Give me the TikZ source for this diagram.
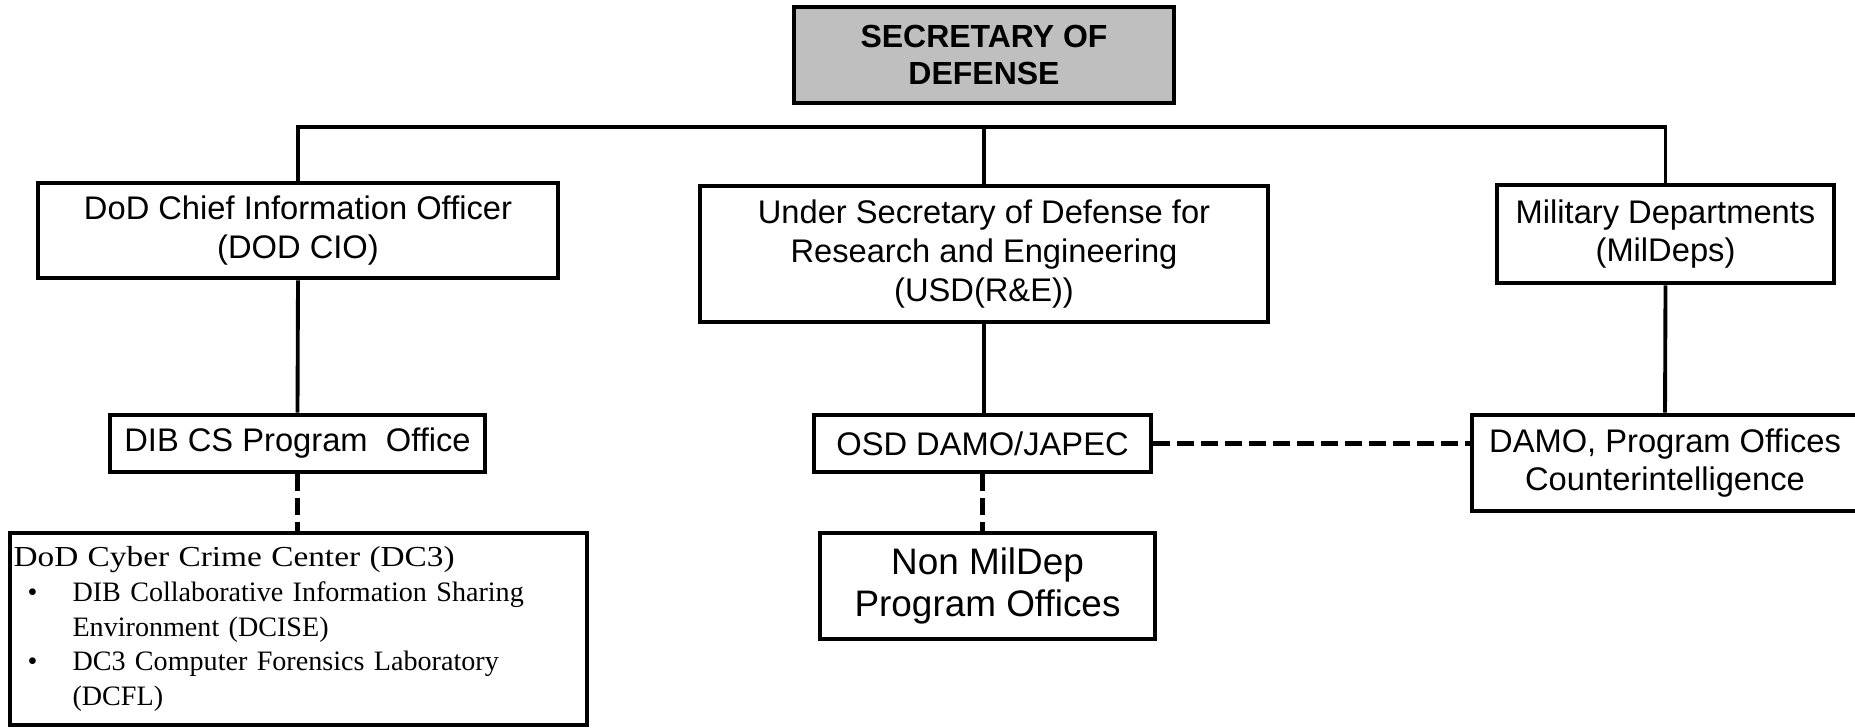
\documentclass[tikz,border=0pt]{standalone}
\usepackage{fontspec}
\setmainfont{Liberation Sans}
\newfontfamily\dcfont{Liberation Serif}

\begin{document}
\begin{tikzpicture}[
  x=0.02cm, y=-0.02cm,
  orgbox/.style={
    rectangle, draw=black, line width=2.6pt, fill=white,
    inner sep=0pt, align=center,
    font=\fontsize{18.6}{22}\selectfont
  },
  topbox/.style={
    orgbox, fill=gray!50,
    font=\fontsize{18.2}{21.5}\selectfont\bfseries
  },
  solidlink/.style={line width=2.2pt},
  dashlink/.style={line width=2.6pt, dash pattern=on 0.34cm off 0.14cm}
]
\useasboundingbox[fill=white] (0,0) rectangle (1855,727);

% Boxes
\node[topbox, minimum width=7.6cm, minimum height=1.92cm] (sec) at (984,55) {SECRETARY OF\\DEFENSE};

\node[orgbox, minimum width=10.4cm, minimum height=1.9cm] (cio) at (298,230.5) {DoD Chief Information Officer\\(DOD CIO)};
\node[orgbox, minimum width=11.36cm, minimum height=2.72cm] (usd) at (984,254) {Under Secretary of Defense for\\Research and Engineering\\(USD(R\&E))};
\node[orgbox, minimum width=6.74cm, minimum height=1.96cm] (mil) at (1665.5,234) {Military Departments\\(MilDeps)};

\node[orgbox, minimum width=7.5cm, minimum height=1.14cm] (dib) at (297.5,443.5) {DIB CS Program\ \ Office};
\node[orgbox, minimum width=6.74cm, minimum height=1.14cm] (osd) at (982.5,443.5) {OSD DAMO/JAPEC};
\node[orgbox, minimum width=7.72cm, minimum height=1.92cm] (damo) at (1665,463) {DAMO, Program Offices\\Counterintelligence};

\node[orgbox, minimum width=11.54cm, minimum height=3.84cm, text width=11.4cm, align=left,
  font=\dcfont\fontsize{16}{19.8}\selectfont] (dc3) at (298.5,629)
  {{\addfontfeature{FakeStretch=1.15}\fontsize{16.5}{19.8}\selectfont DoD Cyber Crime Center (DC3)}\\
   \hspace*{0.28cm}\makebox[0.9cm][l]{\textbullet}DIB Collaborative Information Sharing\\
   \hspace*{1.18cm}Environment (DCISE)\\
   \hspace*{0.28cm}\makebox[0.9cm][l]{\textbullet}DC3 Computer Forensics Laboratory\\
   \hspace*{1.18cm}(DCFL)};
\node[orgbox, minimum width=6.7cm, minimum height=2.12cm,
  font=\fontsize{21}{24}\selectfont] (non) at (987.5,586) {Non MilDep\\Program Offices};

% Links
\coordinate (busL) at (298,127);
\coordinate (busR) at (1665.5,127);
\draw[solidlink] (cio.north) -- (busL) -- (busR) -- (mil.north);
\draw[solidlink] (usd.north) -- (usd.north |- busL);
\draw[solidlink] (cio.south) -- (dib.north);
\draw[solidlink] (usd.south) -- (usd.south |- osd.north);
\draw[solidlink] (mil.south) -- (damo.north);
\draw[dashlink] (dib.south) -- (dib.south |- dc3.north);
\draw[dashlink] (osd.south) -- (osd.south |- non.north);
\draw[dashlink] (osd.east) -- (damo.west |- osd.east);

\end{tikzpicture}
\end{document}
